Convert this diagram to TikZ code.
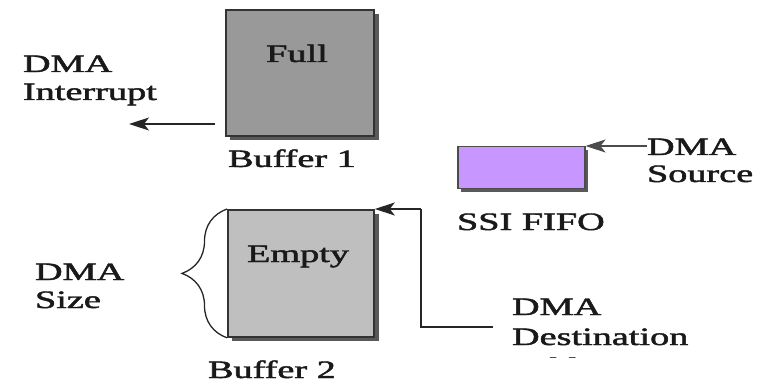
\documentclass[tikz,border=0pt]{standalone}
\usepackage{fontspec}
\setmainfont{Liberation Serif}
% a slightly heavier face for the labels
\newfontfamily\lblfont{Liberation Serif}[RawFeature={embolden=1.6}]
\usetikzlibrary{arrows.meta,decorations.pathreplacing}
% labels are set wide: horizontally stretched serif text
\newcommand{\wide}[1]{\scalebox{1.53}[1]{#1}}
\begin{document}
\begin{tikzpicture}[x=1pt,y=-1pt,
  lbl/.style={anchor=base west,inner sep=0pt,outer sep=0pt,
    font=\fontsize{25}{28}\lblfont,text=black!90},
  ctr/.style={anchor=base,inner sep=0pt,outer sep=0pt,
    font=\fontsize{25}{28}\lblfont,text=black!90},
  shade/.style={fill=black!65,draw=none},
  bufbox/.style={draw=black!80,line width=1.8pt},
  conn/.style={line width=1.3pt,draw=black!85,
    -{Stealth[length=20pt,width=13pt,inset=5pt]}},
  wire/.style={line width=1.3pt,draw=black!85},
  bracestyle/.style={line width=1.3pt,draw=black!85,
    decorate,decoration={brace,amplitude=45pt}}]
\useasboundingbox (0,0) rectangle (771,390);

% ---- Buffer 1 (full) ----
\fill[shade] (230,14) rectangle (379,140);
\node[bufbox,fill=black!40,minimum width=148pt,minimum height=126pt,
  inner sep=0pt,anchor=north west] (buf1) at (225,9) {};
\node[ctr] (full) at (297,62) {\wide{Full}};
\node[lbl] (buf1lbl) at (228,167) {\wide{Buffer 1}};

% ---- DMA interrupt ----
\node[lbl] (intA) at (23,72) {\wide{DMA}};
\node[lbl] (intB) at (23,100) {\wide{Interrupt}};
\coordinate (intEnd) at (129,124);
\draw[conn] (215,124) -- (intEnd);

% ---- SSI FIFO ----
\fill[shade] (461,150) rectangle (588,192);
\node[draw=black!70,line width=1.5pt,fill={rgb,255:red,200;green,150;blue,255},
  minimum width=127pt,minimum height=42pt,inner sep=0pt,
  anchor=north west] (fifo) at (457,146) {};
\node[lbl] (fifolbl) at (457,230) {\wide{SSI FIFO}};
\node[lbl] (srcA) at (647,155) {\wide{DMA}};
\node[lbl] (srcB) at (647,182) {\wide{Source}};
\draw[conn,draw=black!70] (srcA.west |- fifo.north east) -- (fifo.north east);

% ---- Buffer 2 (empty) ----
\fill[shade] (232,214) rectangle (379,341);
\node[bufbox,fill=black!25,minimum width=146pt,minimum height=127pt,
  inner sep=0pt,anchor=north west] (buf2) at (227,209) {};
\node[ctr] (empty) at (298,262) {\wide{Empty}};
\node[lbl] (buf2lbl) at (208,378) {\wide{Buffer 2}};

% ---- DMA size brace ----
\draw[bracestyle] (buf2.south west) -- (buf2.north west);
\node[lbl] (sizeA) at (35,280) {\wide{DMA}};
\node[lbl] (sizeB) at (35,308) {\wide{Size}};

% ---- DMA destination ----
\node[lbl] (dstA) at (512,315) {\wide{DMA}};
\node[lbl] (dstB) at (512,345) {\wide{Destination}};
\begin{scope}
  \clip (500,340) rectangle (700,357);
  \node[lbl] (dstC) at (512,375) {\wide{Address}};
\end{scope}
\coordinate (dstBend) at (421,327);
\coordinate (dstTop) at (421,209);
\draw[wire] (493,327) -- (dstBend) -- (dstTop);
\draw[conn] (dstTop) -- (buf2.north east);

\end{tikzpicture}
\end{document}
